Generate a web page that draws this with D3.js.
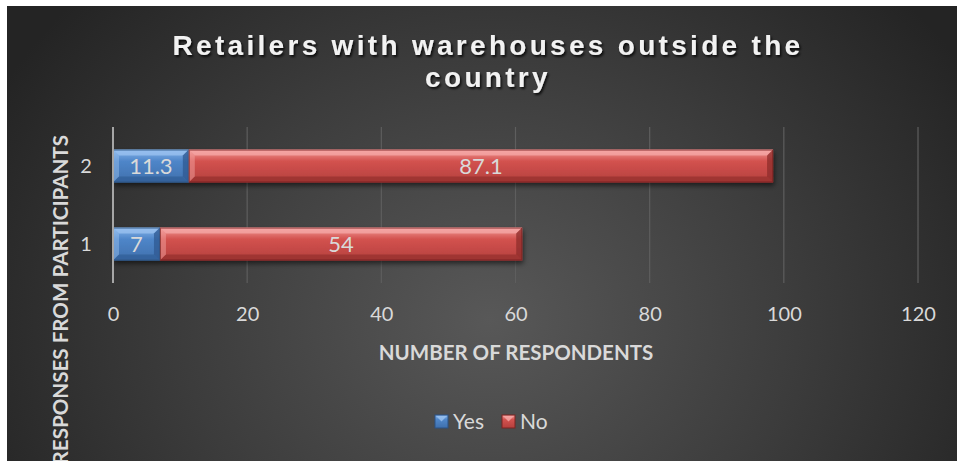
<!DOCTYPE html>
<html>
<head>
<meta charset="utf-8">
<script src="https://cdn.jsdelivr.net/npm/d3@7"></script>
<style>
  html, body { margin: 0; padding: 0; background: #ffffff; overflow: hidden; }
  svg { display: block; }
</style>
</head>
<body>
<svg id="chart" width="957" height="461"></svg>
<script>
// Survey responses: retailers holding warehouses outside the country
const categories = ["1", "2"];
const yesValues = [7, 11.3];
const noValues = [54, 87.1];
const seriesNames = ["Yes", "No"];
const xTicks = [0, 20, 40, 60, 80, 100, 120];

const W = 957, H = 461;
const svg = d3.select("#chart");
const defs = svg.append("defs");

// dark radial backdrop
const bg = defs.append("radialGradient").attr("id", "bgGrad")
  .attr("gradientUnits", "userSpaceOnUse")
  .attr("cx", 490).attr("cy", 320).attr("r", 560)
  .attr("gradientTransform", "translate(490,320) scale(1,0.85) translate(-490,-320)");
bg.append("stop").attr("offset", "0").attr("stop-color", "#585858");
bg.append("stop").attr("offset", "0.55").attr("stop-color", "#3c3c3c");
bg.append("stop").attr("offset", "1").attr("stop-color", "#242424");

const palette = {
  Yes: { top: "#86b4ea", mid: "#4f86c9", bot: "#3f70ad", light: "#9cc3f0", dark: "#2f5a91", edge: "#2b5285" },
  No:  { top: "#f39a98", mid: "#d3524f", bot: "#b5403d", light: "#f6aaa8", dark: "#8e2c2a", edge: "#7a2422" }
};
Object.entries(palette).forEach(([k, c]) => {
  const g = defs.append("linearGradient").attr("id", "grad" + k)
    .attr("x1", 0).attr("y1", 0).attr("x2", 0).attr("y2", 1);
  g.append("stop").attr("offset", "0").attr("stop-color", c.top);
  g.append("stop").attr("offset", "0.35").attr("stop-color", c.mid);
  g.append("stop").attr("offset", "1").attr("stop-color", c.bot);
});

const shadow = defs.append("filter").attr("id", "barShadow")
  .attr("x", "-5%").attr("y", "-30%").attr("width", "110%").attr("height", "180%");
shadow.append("feDropShadow").attr("dx", 1).attr("dy", 3).attr("stdDeviation", 2.5)
  .attr("flood-color", "#000").attr("flood-opacity", 0.55);

const txtShadow = defs.append("filter").attr("id", "txtShadow")
  .attr("x", "-10%").attr("y", "-30%").attr("width", "120%").attr("height", "170%");
txtShadow.append("feDropShadow").attr("dx", 1.5).attr("dy", 2).attr("stdDeviation", 1.2)
  .attr("flood-color", "#000").attr("flood-opacity", 0.8);

// chart panel
svg.append("rect").attr("x", 7).attr("y", 6).attr("width", W - 7).attr("height", H - 6)
  .attr("fill", "url(#bgGrad)");

const fontMain = "Lato, 'Open Sans', 'Liberation Sans', sans-serif";
const textCol = "#d9d9d9";

// title
const title = svg.append("text")
  .attr("text-anchor", "middle")
  .attr("font-family", "'Liberation Sans', Arial, sans-serif")
  .attr("font-weight", "bold").attr("font-size", 28)
  .attr("letter-spacing", 3.3)
  .attr("fill", "#f2f2f2").attr("filter", "url(#txtShadow)");
title.append("tspan").attr("x", 488).attr("y", 55).text("Retailers with warehouses outside the");
title.append("tspan").attr("x", 488).attr("y", 87).text("country");

// scales
const x = d3.scaleLinear().domain([0, 120]).range([113, 918]);
const y = d3.scaleBand().domain(categories.slice().reverse()).range([127, 283]).paddingInner(0.58).paddingOuter(0.29);

// gridlines
svg.append("g").selectAll("line").data(xTicks.filter(t => t > 0)).join("line")
  .attr("x1", d => x(d)).attr("x2", d => x(d))
  .attr("y1", 127).attr("y2", 283)
  .attr("stroke", "#5e5e5e").attr("stroke-width", 1.2);

// x tick labels
const xAxis = d3.axisBottom(x).tickValues(xTicks).tickSize(0).tickPadding(0);
const gx = svg.append("g").attr("transform", "translate(0,307)").call(xAxis);
gx.select(".domain").remove();
gx.selectAll("text").attr("font-family", fontMain).attr("font-size", 20)
  .attr("fill", textCol).attr("dy", "0.71em");

// y category labels
const yAxis = d3.axisLeft(y).tickSize(0).tickPadding(0);
const gy = svg.append("g").attr("transform", "translate(86,0)").call(yAxis);
gy.select(".domain").remove();
gy.selectAll("text").attr("font-family", fontMain).attr("font-size", 20)
  .attr("fill", textCol).attr("text-anchor", "middle").attr("dy", "0.35em");

// stacked segments
const rows = categories.map((c, i) => ({ cat: c, Yes: yesValues[i], No: noValues[i] }));
const stack = d3.stack().keys(seriesNames)(rows);

const bevel = 6;
function drawSegment(g, x0, x1, y0, h, c) {
  const w = x1 - x0, b = Math.min(bevel, w / 2, h / 2);
  const seg = g.append("g");
  seg.append("rect").attr("x", x0).attr("y", y0).attr("width", w).attr("height", h)
    .attr("fill", "url(#grad" + c.key + ")");
  const pal = palette[c.key];
  const P = (pts) => pts.map(p => p.join(",")).join(" ");
  // top facet
  seg.append("polygon").attr("points", P([[x0, y0], [x1, y0], [x1 - b, y0 + b], [x0 + b, y0 + b]]))
    .attr("fill", pal.light).attr("opacity", 0.75);
  // left facet
  seg.append("polygon").attr("points", P([[x0, y0], [x0 + b, y0 + b], [x0 + b, y0 + h - b], [x0, y0 + h]]))
    .attr("fill", pal.light).attr("opacity", 0.45);
  // bottom facet
  seg.append("polygon").attr("points", P([[x0, y0 + h], [x0 + b, y0 + h - b], [x1 - b, y0 + h - b], [x1, y0 + h]]))
    .attr("fill", pal.dark).attr("opacity", 0.6);
  // right facet
  seg.append("polygon").attr("points", P([[x1, y0], [x1, y0 + h], [x1 - b, y0 + h - b], [x1 - b, y0 + b]]))
    .attr("fill", pal.dark).attr("opacity", 0.75);
  seg.append("rect").attr("x", x0 + 0.5).attr("y", y0 + 0.5).attr("width", w - 1).attr("height", h - 1)
    .attr("fill", "none").attr("stroke", pal.edge).attr("stroke-width", 1).attr("opacity", 0.7);
}

const barsG = svg.append("g");
rows.forEach((r, i) => {
  const row = barsG.append("g").attr("filter", "url(#barShadow)");
  stack.forEach(s => {
    const d = s[i];
    drawSegment(row, x(d[0]), x(d[1]), y(r.cat), y.bandwidth(), { key: s.key });
  });
});

// value labels
const labelG = svg.append("g");
stack.forEach(s => {
  s.forEach((d, i) => {
    labelG.append("text")
      .attr("x", (x(d[0]) + x(d[1])) / 2)
      .attr("y", y(rows[i].cat) + y.bandwidth() / 2)
      .attr("dy", "0.36em")
      .attr("text-anchor", "middle")
      .attr("font-family", fontMain).attr("font-size", 22)
      .attr("fill", textCol)
      .text(d.data[s.key]);
  });
});

// vertical axis line
svg.append("line").attr("x1", 113).attr("x2", 113).attr("y1", 127).attr("y2", 283)
  .attr("stroke", "#a6a6a6").attr("stroke-width", 2);

// axis titles
svg.append("text").attr("x", 516).attr("y", 360).attr("text-anchor", "middle")
  .attr("font-family", fontMain).attr("font-weight", "bold").attr("font-size", 20.5)
  .attr("fill", textCol).text("NUMBER OF RESPONDENTS");

svg.append("text")
  .attr("transform", "translate(68,135) rotate(-90)")
  .attr("text-anchor", "end")
  .attr("font-family", fontMain).attr("font-weight", "bold").attr("font-size", 20.6)
  .attr("fill", textCol).text("RESPONSES FROM PARTICIPANTS");

// legend
const legend = svg.append("g");
const legendItems = [{ key: "Yes", x: 435 }, { key: "No", x: 502 }];
legendItems.forEach(it => {
  const pal = palette[it.key];
  const g = legend.append("g");
  const s = 13, lx = it.x, ly = 415;
  g.append("rect").attr("x", lx).attr("y", ly).attr("width", s).attr("height", s)
    .attr("fill", "url(#grad" + it.key + ")").attr("stroke", pal.edge);
  g.append("polygon")
    .attr("points", `${lx + 1},${ly + 1} ${lx + s - 1},${ly + 1} ${lx + s / 2},${ly + s / 2}`)
    .attr("fill", pal.light).attr("opacity", 0.8);
  g.append("text").attr("x", lx + s + 5).attr("y", ly + s / 2).attr("dy", "0.36em")
    .attr("font-family", fontMain).attr("font-size", 21).attr("fill", textCol).text(it.key);
});
</script>
</body>
</html>
